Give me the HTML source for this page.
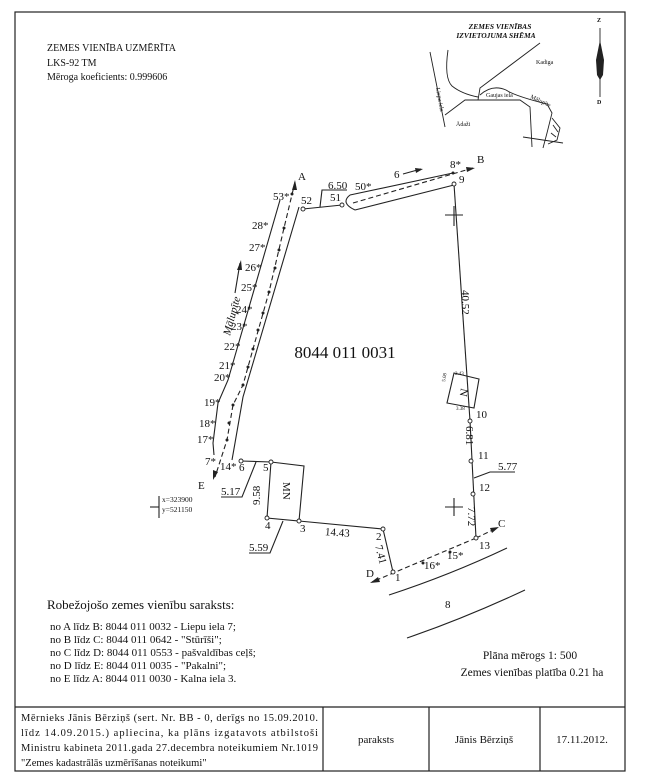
<!DOCTYPE html>
<html><head><meta charset="utf-8"><style>
html,body{margin:0;padding:0;background:#fff;}
svg{display:block;font-family:"Liberation Serif",serif;}
</style></head><body>
<svg width="645" height="776" viewBox="0 0 645 776" xmlns="http://www.w3.org/2000/svg">
<g fill="none" stroke="#222" stroke-width="1.2">
<rect x="15" y="12" width="610" height="759"/>
<line x1="15" y1="707" x2="625" y2="707"/>
<line x1="323" y1="707" x2="323" y2="771"/>
<line x1="429" y1="707" x2="429" y2="771"/>
<line x1="540" y1="707" x2="540" y2="771"/>
</g>
<g font-size="10" fill="#111">
<text x="47" y="51">ZEMES VIENĪBA UZMĒRĪTA</text>
<text x="47" y="66">LKS-92 TM</text>
<text x="47" y="80">Mēroga koeficients: 0.999606</text>
</g>
<!-- inset -->
<g font-size="7.5" font-style="italic" font-weight="bold" fill="#111" text-anchor="middle">
<text x="500" y="29">ZEMES VIENĪBAS</text>
<text x="496" y="38">IZVIETOJUMA SHĒMA</text>
</g>
<g fill="none" stroke="#222" stroke-width="0.9">
<path d="M430 52 L445 127"/>
<path d="M448 50 Q444 78 452 86 Q462 94 478 97"/>
<path d="M445 115 L465 100 L520 100 L530 107 L532 147"/>
<path d="M478 100 L480 88 L540 43"/>
<path d="M480 95 Q492 84 506 90 Q515 96 547 104 L552 113 L547 133 L543 148"/>
<path d="M552 118 L560 128 L557 140 L548 144 M553 125 L558 132 M551 133 L556 137"/>
<path d="M523 137 L563 143"/>
<line x1="600" y1="28" x2="600" y2="97"/>
</g>
<path d="M600 40 L604 60 L603 75 L600 80 L597 75 L596 60 Z" fill="#222"/>
<g font-size="6" fill="#111">
<text x="536" y="64">Kadiga</text>
<text x="456" y="126">Ādaži</text>
<text x="486" y="97">Gaujas iela</text>
<text x="530" y="98" transform="rotate(25 530 98)">Mālupīte</text>
<text x="436" y="88" transform="rotate(80 436 88)">Liepu iela</text>
<text x="597" y="22" font-weight="bold">Z</text>
<text x="597" y="104" font-weight="bold">D</text>
</g>
<!-- plot -->
<g fill="none" stroke="#222" stroke-width="1.1">
<path d="M280 200 L228 380 L218 403 L213 443 L214 455"/>
<path d="M299 207 L243 397 L235 443 L232 460"/>
<path d="M295 182 L284 228 L269 292 L253 349 L243 385 L233 405 L227 440 L215 477" stroke-dasharray="5,3"/>
<path d="M350 195 L453 173 M355 210 L454 185 M350 195 Q340 203 355 210"/>
<path d="M353 203 L473 168" stroke-dasharray="5,3"/>
<line x1="303" y1="209" x2="342" y2="205"/>
<path d="M320 207 L322 190 L347 190"/>
<line x1="454" y1="184" x2="470" y2="421"/>
<line x1="470" y1="421" x2="476" y2="538"/>
<line x1="241" y1="461" x2="271" y2="462"/>
<path d="M271 462 L304 466 L299 521 L267 518 Z"/>
<path d="M299 521 L383 529 L393 572"/>
<path d="M454 373 L479 379 L474 408 L447 403 Z"/>
<path d="M476 538 L497 528 M476 538 L372 582" stroke-dasharray="5,3"/>
<path d="M256 462 L242 497 L221 497"/>
<path d="M283 521 L270 553 L249 553"/>
<path d="M474 478 L490 472 L515 472"/>
<line x1="445" y1="215" x2="463" y2="215"/><line x1="454" y1="206" x2="454" y2="226"/>
<line x1="445" y1="507" x2="463" y2="507"/><line x1="454" y1="498" x2="454" y2="516"/>
<line x1="150" y1="507" x2="159" y2="507"/><line x1="159" y1="496" x2="159" y2="518"/>
<line x1="403" y1="174" x2="421" y2="169"/>
<line x1="235" y1="293" x2="240" y2="263"/>
<path d="M389 595 Q450 575 507 548"/>
<path d="M407 638 Q465 618 525 590"/>
</g>
<g fill="#222">
<path d="M295 180 L292 190 L297 190 Z"/>
<path d="M475 168 L466 167 L467 172 Z"/>
<path d="M423 169 L415 168 L416 173 Z"/>
<path d="M241 260 L237 270 L242 270 Z"/>
<path d="M213 480 L213 470 L218 472 Z"/>
<path d="M499 527 L490 528 L492 533 Z"/>
<path d="M370 583 L378 577 L380 582 Z"/>
</g>
<g fill="#fff" stroke="#222" stroke-width="0.9">
<circle cx="303" cy="209" r="2"/><circle cx="342" cy="205" r="2"/>
<circle cx="454" cy="184" r="2"/><circle cx="470" cy="421" r="2"/>
<circle cx="471" cy="461" r="2"/><circle cx="473" cy="494" r="2"/>
<circle cx="476" cy="538" r="2"/><circle cx="393" cy="572" r="2"/>
<circle cx="383" cy="529" r="2"/><circle cx="299" cy="521" r="2"/>
<circle cx="267" cy="518" r="2"/><circle cx="271" cy="462" r="2"/>
<circle cx="241" cy="461" r="2"/>
</g>
<g fill="#222">
<circle cx="453" cy="173" r="1.5"/><circle cx="284" cy="228" r="1.5"/><circle cx="279" cy="250" r="1.5"/>
<circle cx="275" cy="268" r="1.5"/><circle cx="269" cy="292" r="1.5"/><circle cx="263" cy="313" r="1.5"/>
<circle cx="258" cy="330" r="1.5"/><circle cx="253" cy="349" r="1.5"/><circle cx="248" cy="367" r="1.5"/>
<circle cx="243" cy="385" r="1.5"/><circle cx="233" cy="405" r="1.5"/><circle cx="229" cy="423" r="1.5"/>
<circle cx="227" cy="440" r="1.5"/><circle cx="450" cy="552" r="1.5"/><circle cx="423" cy="563" r="1.5"/>
<circle cx="292" cy="194" r="1.5"/>
</g>
<g font-size="11" fill="#111">
<text x="298" y="180">A</text>
<text x="477" y="163">B</text>
<text x="498" y="527">C</text>
<text x="366" y="577">D</text>
<text x="198" y="489">E</text>
<text x="273" y="200">53*</text>
<text x="301" y="204">52</text>
<text x="330" y="201">51</text>
<text x="328" y="189">6.50</text>
<text x="355" y="190">50*</text>
<text x="394" y="178">6</text>
<text x="450" y="168">8*</text>
<text x="459" y="183">9</text>
<text x="252" y="229">28*</text>
<text x="249" y="251">27*</text>
<text x="245" y="271">26*</text>
<text x="241" y="291">25*</text>
<text x="236" y="313">24*</text>
<text x="231" y="330">23*</text>
<text x="224" y="350">22*</text>
<text x="219" y="369">21*</text>
<text x="214" y="381">20*</text>
<text x="204" y="406">19*</text>
<text x="199" y="427">18*</text>
<text x="197" y="443">17*</text>
<text x="205" y="465">7*</text>
<text x="220" y="470">14*</text>
<text x="239" y="471">6</text>
<text x="263" y="471">5</text>
<text x="265" y="529">4</text>
<text x="300" y="532">3</text>
<text x="376" y="540">2</text>
<text x="395" y="581">1</text>
<text x="476" y="418">10</text>
<text x="478" y="459">11</text>
<text x="479" y="491">12</text>
<text x="479" y="549">13</text>
<text x="447" y="559">15*</text>
<text x="424" y="569">16*</text>
<text x="221" y="495">5.17</text>
<text x="249" y="551">5.59</text>
<text x="498" y="470">5.77</text>
<text x="325" y="536" transform="rotate(4 337 532)">14.43</text>
<text x="445" y="608">8</text>
<text x="462" y="290" transform="rotate(90 462 290)">40.52</text>
<text x="466" y="426" transform="rotate(90 466 426)">6.81</text>
<text x="468" y="507" transform="rotate(90 468 507)">7.72</text>
<text x="375" y="546" transform="rotate(75 375 546)">7.41</text>
<text x="260" y="505" transform="rotate(-90 260 505)">9.58</text>
<text x="283" y="482" transform="rotate(90 283 482)">MN</text>
<text x="461" y="388" transform="rotate(100 461 388)">N</text>
<text x="230" y="336" transform="rotate(-75 230 336)" font-style="italic">Mālupīte</text>
</g>
<g font-size="5" fill="#111">
<text x="455" y="375">2.43</text><text x="456" y="410">3.38</text>
<text x="445" y="382" transform="rotate(-80 445 382)">5.08</text>
</g>
<g font-size="7.5" fill="#111">
<text x="162" y="502">x=323900</text>
<text x="162" y="512">y=521150</text>
</g>
<text x="345" y="358" font-size="17" text-anchor="middle" fill="#111">8044 011 0031</text>
<g fill="#111">
<text x="47" y="609" font-size="13">Robežojošo zemes vienību saraksts:</text>
<g font-size="11">
<text x="50" y="630">no A līdz B: 8044 011 0032 - Liepu iela 7;</text>
<text x="50" y="643">no B līdz C: 8044 011 0642 - "Stūrīši";</text>
<text x="50" y="656">no C līdz D: 8044 011 0553 - pašvaldības ceļš;</text>
<text x="50" y="669">no D līdz E: 8044 011 0035 - "Pakalni";</text>
<text x="50" y="682">no E līdz A: 8044 011 0030 - Kalna iela 3.</text>
</g>
<g font-size="11.5" text-anchor="middle">
<text x="530" y="659">Plāna mērogs 1: 500</text>
<text x="532" y="676">Zemes vienības platība 0.21 ha</text>
</g>
<g font-size="10.5">
<text x="21" y="721" textLength="297">Mērnieks Jānis Bērziņš (sert. Nr. BB - 0, derīgs no 15.09.2010.</text>
<text x="21" y="736" textLength="297">līdz 14.09.2015.) apliecina, ka  plāns izgatavots atbilstoši</text>
<text x="21" y="751" textLength="297">Ministru kabineta 2011.gada 27.decembra noteikumiem Nr.1019</text>
<text x="21" y="766">"Zemes kadastrālās uzmērīšanas noteikumi"</text>
</g>
<g font-size="11" text-anchor="middle">
<text x="376" y="743">paraksts</text>
<text x="484" y="743">Jānis Bērziņš</text>
<text x="582" y="743">17.11.2012.</text>
</g>
</g>
</svg>
</body></html>
